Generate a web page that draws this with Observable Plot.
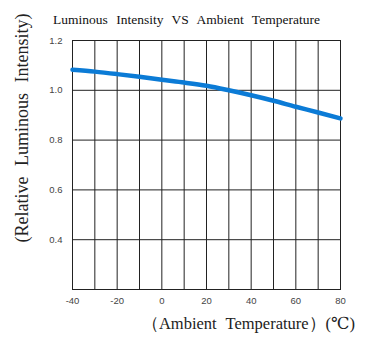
<!DOCTYPE html>
<html>
<head>
<meta charset="utf-8">
<script src="https://cdn.jsdelivr.net/npm/d3@7"></script>
<script src="https://cdn.jsdelivr.net/npm/@observablehq/plot@0.6"></script>
<style>
body{margin:0;background:#fff;}
</style>
</head>
<body>
<div id="chart"></div>
<script>
const temperature = [-40, -30, -20, -10, 0, 10, 20, 30, 40, 50, 60, 70, 80];
const intensity = [1.083, 1.075, 1.065, 1.054, 1.042, 1.031, 1.018, 1.000, 0.980, 0.958, 0.934, 0.911, 0.887];
const xTicks = [-40, -20, 0, 20, 40, 60, 80];
const xGrid = [-30, -20, -10, 0, 10, 20, 30, 40, 50, 60, 70];
const yTicks = [0.4, 0.6, 0.8, 1.0, 1.2];
const yGrid = [0.4, 0.6, 0.8, 1.0];
const title = "Luminous Intensity VS Ambient Temperature";
const xLabel = "（Ambient Temperature）(℃)";
const yLabel = "(Relative Luminous Intensity)";

const data = temperature.map((t, i) => ({t, v: intensity[i]}));
const serif = "'Liberation Serif','DejaVu Serif',serif";

const chart = Plot.plot({
  width: 365,
  height: 339,
  marginTop: 40,
  marginBottom: 50,
  marginLeft: 72,
  marginRight: 25,
  style: {fontFamily: "'Liberation Sans',Arial,sans-serif", background: "#fff"},
  x: {domain: [-40, 80], label: null},
  y: {domain: [0.2, 1.2], label: null},
  marks: [
    Plot.ruleX(xGrid, {stroke: "#222", strokeWidth: 1}),
    Plot.ruleY(yGrid, {stroke: "#222", strokeWidth: 1}),
    Plot.frame({stroke: "#222", strokeWidth: 1}),
    Plot.line(data, {x: "t", y: "v", stroke: "#0b7bd6", strokeWidth: 4.5, curve: "monotone-x"}),
    Plot.axisX({ticks: xTicks, tickSize: 0, tickPadding: 8, fontSize: 9.5, fill: "#444", label: null, tickFormat: d => String(d)}),
    Plot.axisY({ticks: yTicks, tickSize: 0, tickPadding: 10, fontSize: 9.5, fill: "#444", label: null, tickFormat: d => d.toFixed(1)}),
    Plot.text([title], {frameAnchor: "top", dy: -26, dx: -20, text: d => d, fontSize: 13.5, fontFamily: serif, fill: "#111", className: "ttl"}),
    Plot.text([yLabel], {frameAnchor: "left", textAnchor: "middle", dx: -50, dy: -37, rotate: -90, text: d => d, fontSize: 18, fontFamily: serif, fill: "#222", className: "ylab"}),
    Plot.text([xLabel], {frameAnchor: "bottom", dy: 39, dx: 42, text: d => d, fontSize: 16.5, fontFamily: serif, fill: "#222", className: "xlab"})
  ]
});
d3.select(chart).selectAll(".ttl text").style("word-spacing", "5px");
d3.select(chart).selectAll(".ylab text").style("word-spacing", "6px");
d3.select(chart).selectAll(".xlab text").style("word-spacing", "5px");
document.getElementById("chart").appendChild(chart);
</script>
</body>
</html>
